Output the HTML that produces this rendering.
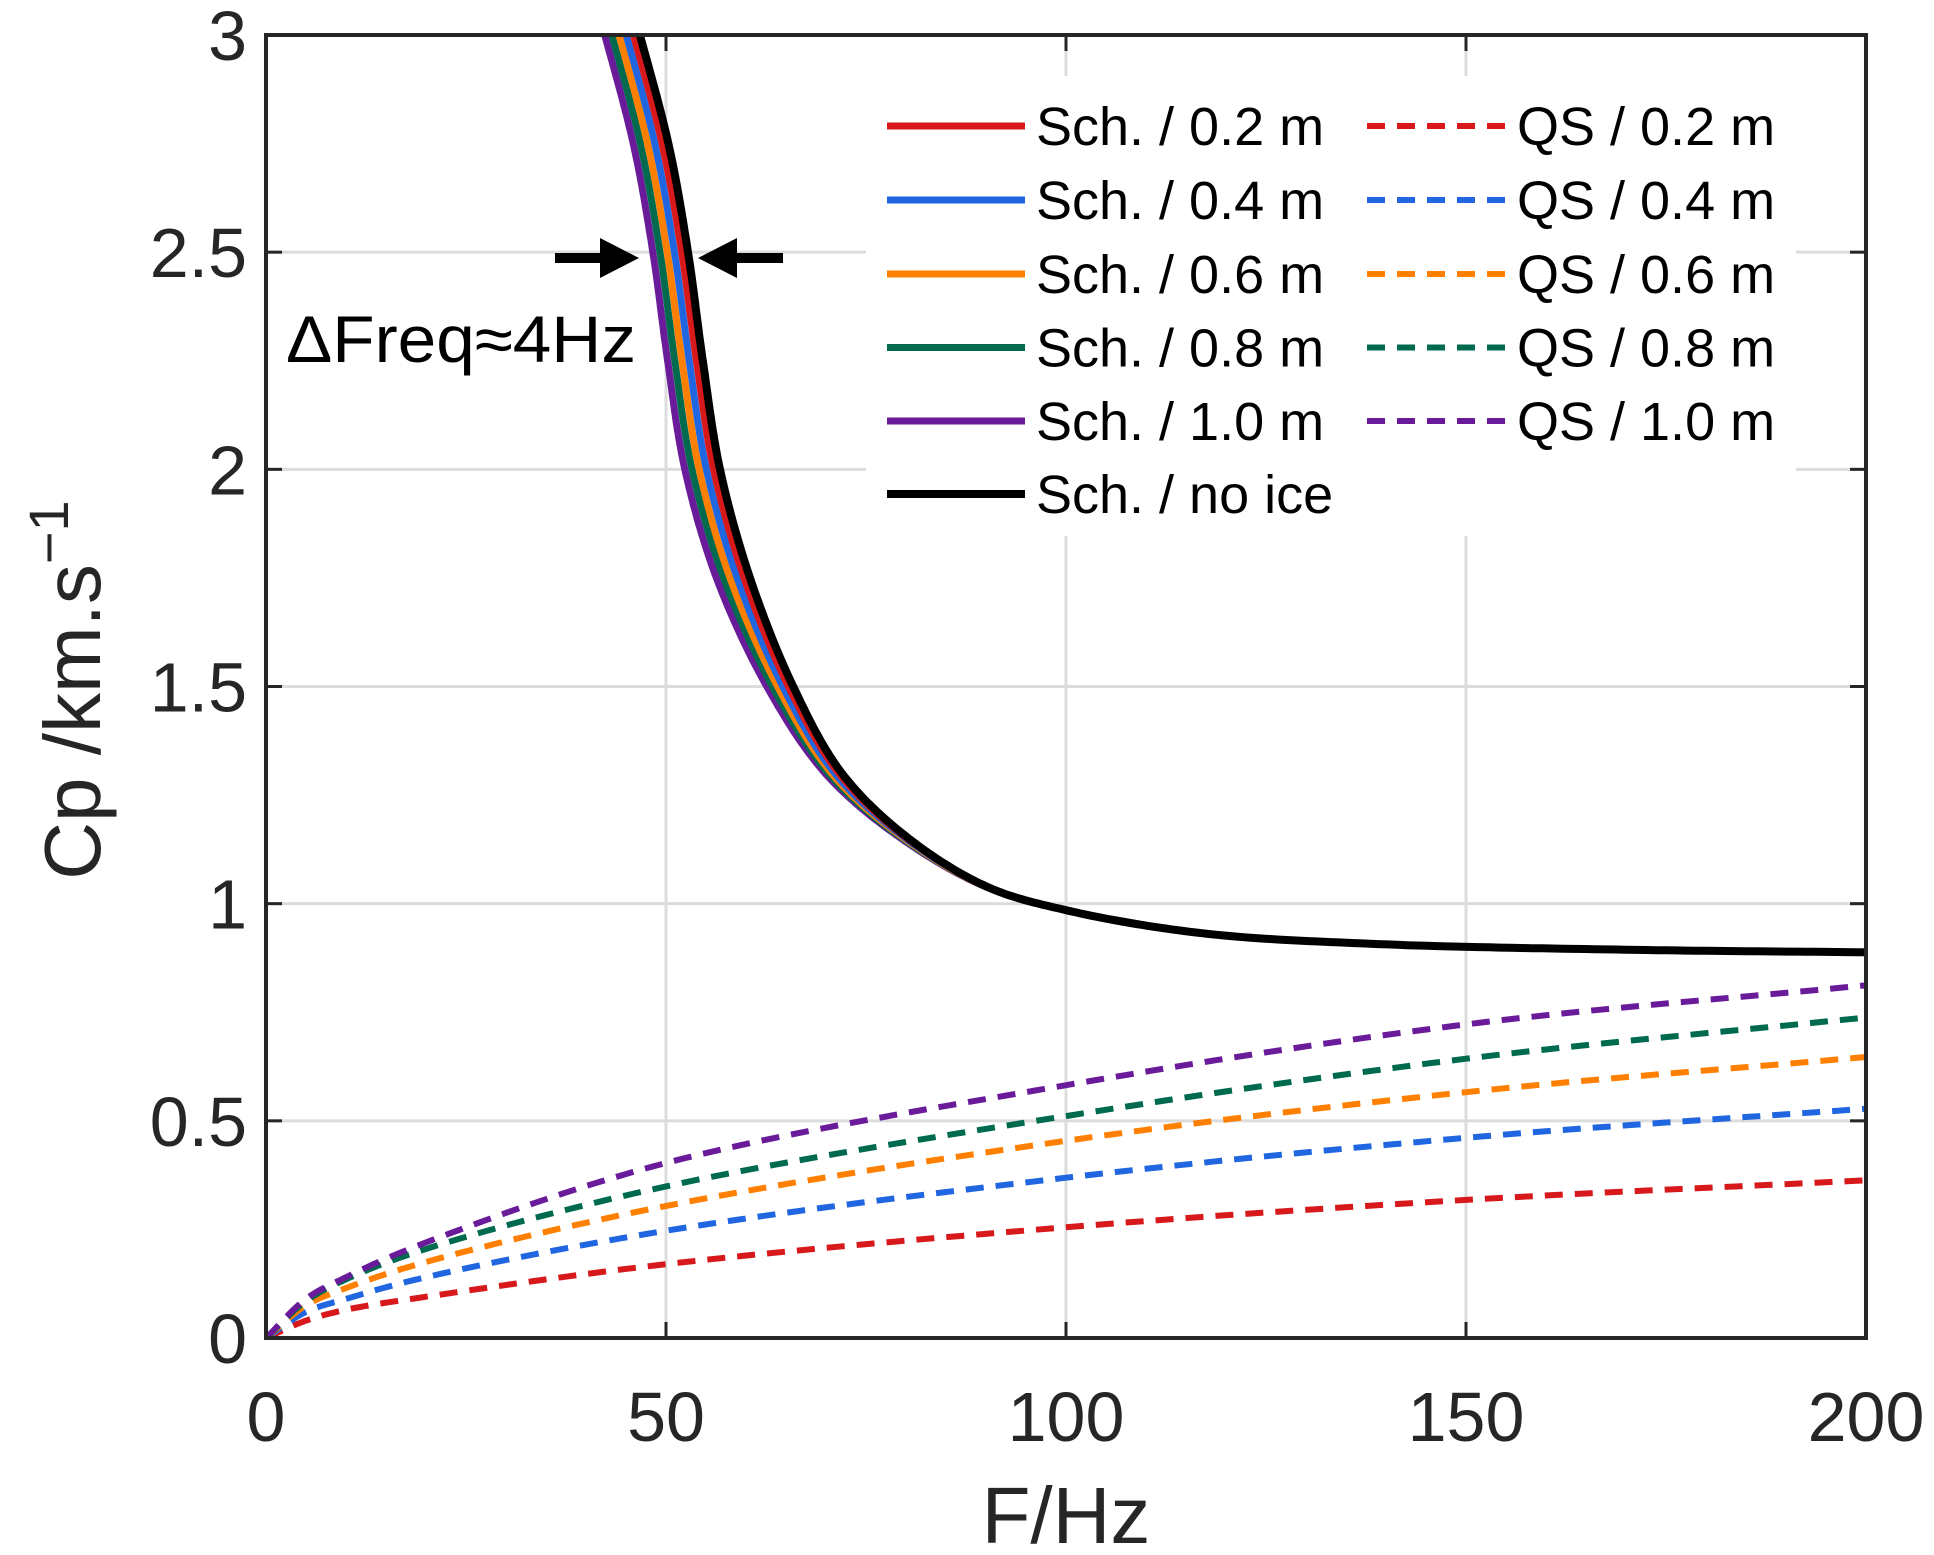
<!DOCTYPE html>
<html><head><meta charset="utf-8"><style>
html,body{margin:0;padding:0;background:#fff;}
svg{display:block;font-family:"Liberation Sans",Arial,sans-serif;}
</style></head><body>
<svg id="chart" width="1934" height="1555" viewBox="0 0 1934 1555">
<rect x="0" y="0" width="1934" height="1555" fill="#fff"/>
<g id="grid"></g>
<g id="series"></g>
<g id="legend"></g>
<g id="axes"></g>
</svg>
<script>
// ---- data ----
const xTicks = [0, 50, 100, 150, 200];
const yTicks = [0, 0.5, 1, 1.5, 2, 2.5, 3];
const xTickLabels = ["0", "50", "100", "150", "200"];
const yTickLabels = ["0", "0.5", "1", "1.5", "2", "2.5", "3"];
// Schoch curves: Cp values (shared) and frequency per series
const schCp = [3.05, 2.75, 2.5, 2.25, 2.0, 1.75, 1.5, 1.3, 1.155, 1.04, 0.985, 0.932, 0.907, 0.894, 0.888];
const schNoIceF = [46.0, 50.3, 52.75, 54.6, 56.75, 60.5, 65.9, 72.0, 80, 90, 100, 117, 139, 170, 200];
const sch02F = [45.2, 49.5, 51.95, 53.8, 55.95, 59.75, 65.3, 71.6, 79.8, 90, 100, 117, 139, 170, 200];
const sch04F = [44.3, 48.6, 51.05, 52.9, 55.05, 58.9, 64.6, 71.1, 79.6, 90, 100, 117, 139, 170, 200];
const sch06F = [43.4, 47.7, 50.15, 52.0, 54.15, 58.0, 63.95, 70.7, 79.4, 89.9, 100, 117, 139, 170, 200];
const sch08F = [42.5, 46.8, 49.25, 51.1, 53.25, 57.2, 63.3, 70.3, 79.2, 89.9, 100, 117, 139, 170, 200];
const sch10F = [41.6, 45.9, 48.35, 50.2, 52.35, 56.3, 62.6, 69.9, 79.0, 89.8, 100, 117, 139, 170, 200];
// Quasi-static curves
const qsF = [0, 5, 10, 20, 50, 100, 150, 200];
const qs02 = [0, 0.04, 0.065, 0.095, 0.17, 0.255, 0.318, 0.363];
const qs04 = [0, 0.06, 0.09, 0.14, 0.247, 0.369, 0.461, 0.528];
const qs06 = [0, 0.075, 0.115, 0.175, 0.304, 0.454, 0.566, 0.647];
const qs08 = [0, 0.085, 0.135, 0.205, 0.349, 0.511, 0.643, 0.738];
const qs10 = [0, 0.09, 0.14, 0.22, 0.403, 0.582, 0.722, 0.812];

const C = {red:"#d7191c", blue:"#1f66e0", orange:"#ff8000", green:"#006a4e", purple:"#6a1b9a", black:"#000"};
const L = 266, R = 1866, T = 35, B = 1338;
const xS = v => L + (v - 0) / 200 * (R - L);
const yS = v => B - v / 3 * (B - T);
const NS = "http://www.w3.org/2000/svg";
function mk(tag, attrs, parent){const e=document.createElementNS(NS,tag);for(const k in attrs)e.setAttribute(k,attrs[k]);parent.appendChild(e);return e;}
// centripetal Catmull-Rom, sampled
function smooth(pts){
  const P=[[2*pts[0][0]-pts[1][0],2*pts[0][1]-pts[1][1]]].concat(pts,[[2*pts[pts.length-1][0]-pts[pts.length-2][0],2*pts[pts.length-1][1]-pts[pts.length-2][1]]]);
  const out=[];
  const tj=(ti,a,b)=>ti+Math.pow(Math.hypot(b[0]-a[0],b[1]-a[1])||1e-6,0.5);
  for(let i=1;i<P.length-2;i++){
    const p0=P[i-1],p1=P[i],p2=P[i+1],p3=P[i+2];
    const t0=0,t1=tj(t0,p0,p1),t2=tj(t1,p1,p2),t3=tj(t2,p2,p3);
    const N=24;
    for(let k=(i===1?0:1);k<=N;k++){
      const t=t1+(t2-t1)*k/N;
      const lerp=(a,b,ta,tb)=>[(tb-t)/(tb-ta)*a[0]+(t-ta)/(tb-ta)*b[0],(tb-t)/(tb-ta)*a[1]+(t-ta)/(tb-ta)*b[1]];
      const A1=lerp(p0,p1,t0,t1),A2=lerp(p1,p2,t1,t2),A3=lerp(p2,p3,t2,t3);
      const B1=lerp(A1,A2,t0,t2),B2=lerp(A2,A3,t1,t3);
      out.push(lerp(B1,B2,t1,t2));
    }
  }
  return "M"+out.map(p=>p[0].toFixed(1)+","+p[1].toFixed(1)).join(" L");
}
const grid=document.getElementById('grid');
xTicks.forEach(v=>{const l=mk('line',{x1:xS(v),x2:xS(v),y1:T,y2:B,stroke:'#dcdcdc','stroke-width':3},grid);

});
yTicks.forEach(v=>{const l=mk('line',{x1:L,x2:R,y1:yS(v),y2:yS(v),stroke:'#dcdcdc','stroke-width':3},grid);

});

const ser=document.getElementById('series');
const clip=mk('clipPath',{id:'pc'},ser);mk('rect',{x:L,y:T,width:R-L,height:B-T},clip);
const qsList=[[qs02,C.red,'qs-0-2m'],[qs04,C.blue,'qs-0-4m'],[qs06,C.orange,'qs-0-6m'],[qs08,C.green,'qs-0-8m'],[qs10,C.purple,'qs-1-0m']];
qsList.forEach(([vals,col,name])=>{
  const p=mk('path',{d:smooth(qsF.map((f,i)=>[xS(f),yS(vals[i])])),fill:'none',stroke:col,'stroke-width':6,'stroke-dasharray':'18 12','clip-path':'url(#pc)'},ser);
  
  
});
const schList=[[sch10F,C.purple,'sch-1-0m'],[sch08F,C.green,'sch-0-8m'],[sch06F,C.orange,'sch-0-6m'],[sch04F,C.blue,'sch-0-4m'],[sch02F,C.red,'sch-0-2m'],[schNoIceF,C.black,'sch-no-ice']];
schList.forEach(([fs,col,name])=>{
  const pts=fs.map((f,i)=>[xS(f),yS(schCp[i])]);
  const p=mk('path',{d:smooth(pts),fill:'none',stroke:col,'stroke-width':name==='sch-no-ice'?8:7,'stroke-linejoin':'round','clip-path':'url(#pc)'},ser);
  
  
});

// legend
const lg=document.getElementById('legend');
const bg=mk('rect',{x:866,y:76,width:930,height:460,fill:'#fff'},lg);


const rowY=[126,200,274,347.5,421,494];
const col1=[["Sch. / 0.2 m",C.red],["Sch. / 0.4 m",C.blue],["Sch. / 0.6 m",C.orange],["Sch. / 0.8 m",C.green],["Sch. / 1.0 m",C.purple],["Sch. / no ice",C.black]];
const col2=[["QS / 0.2 m",C.red],["QS / 0.4 m",C.blue],["QS / 0.6 m",C.orange],["QS / 0.8 m",C.green],["QS / 1.0 m",C.purple]];
col1.forEach(([t,c],i)=>{
  const g=mk('g',{},lg);
  
  
  mk('line',{x1:887,x2:1025,y1:rowY[i],y2:rowY[i],stroke:c,'stroke-width':i===5?8:7},g);
  const tx=mk('text',{x:1036,y:rowY[i]+19,'font-size':54,fill:'#000'},g);tx.textContent=t;
});
col2.forEach(([t,c],i)=>{
  const g=mk('g',{},lg);
  
  
  mk('line',{x1:1367,x2:1507,y1:rowY[i],y2:rowY[i],stroke:c,'stroke-width':6,'stroke-dasharray':'18 12'},g);
  const tx=mk('text',{x:1517,y:rowY[i]+19,'font-size':54,fill:'#000'},g);tx.textContent=t;
});

// axes
const ax=document.getElementById('axes');
const fr=mk('rect',{x:L,y:T,width:R-L,height:B-T,fill:'none',stroke:'#262626','stroke-width':4},ax);


xTicks.forEach((v,i)=>{
  mk('line',{x1:xS(v),x2:xS(v),y1:B,y2:B-16,stroke:'#262626','stroke-width':3},ax);
  mk('line',{x1:xS(v),x2:xS(v),y1:T,y2:T+16,stroke:'#262626','stroke-width':3},ax);
  const t=mk('text',{x:xS(v),y:1441,'font-size':70,fill:'#262626','text-anchor':'middle'},ax);
  
  
  t.textContent=xTickLabels[i];
});
yTicks.forEach((v,i)=>{
  mk('line',{x1:L,x2:L+16,y1:yS(v),y2:yS(v),stroke:'#262626','stroke-width':3},ax);
  mk('line',{x1:R,x2:R-16,y1:yS(v),y2:yS(v),stroke:'#262626','stroke-width':3},ax);
  const t=mk('text',{x:247,y:yS(v)+25,'font-size':70,fill:'#262626','text-anchor':'end'},ax);
  
  
  t.textContent=yTickLabels[i];
});
</script>
<script>
const root=document.getElementById('chart');
const NS2="http://www.w3.org/2000/svg";
function add(tag,attrs,txt){const e=document.createElementNS(NS2,tag);for(const k in attrs)e.setAttribute(k,attrs[k]);if(txt)e.textContent=txt;root.appendChild(e);return e;}
const xl=add('text',{x:1066,y:1543,'font-size':80,fill:'#262626','text-anchor':'middle'},'F/Hz');


const yl=add('text',{x:0,y:0,'font-size':80,fill:'#262626','text-anchor':'middle',transform:'translate(100,690) rotate(-90)'});


yl.innerHTML='Cp /km.s<tspan dy="-32" font-size="56">−1</tspan>';
const an=add('text',{x:286,y:362,'font-size':66,fill:'#000',textLength:350,lengthAdjust:'spacingAndGlyphs'},'ΔFreq≈4Hz');


const a1=add('path',{d:'M555,253 L600,253 L600,238 L639,258 L600,278 L600,263 L555,263 Z',fill:'#000'});


const a2=add('path',{d:'M783,253 L737,253 L737,238 L698,258 L737,278 L737,263 L783,263 Z',fill:'#000'});


</script>
</body></html>
